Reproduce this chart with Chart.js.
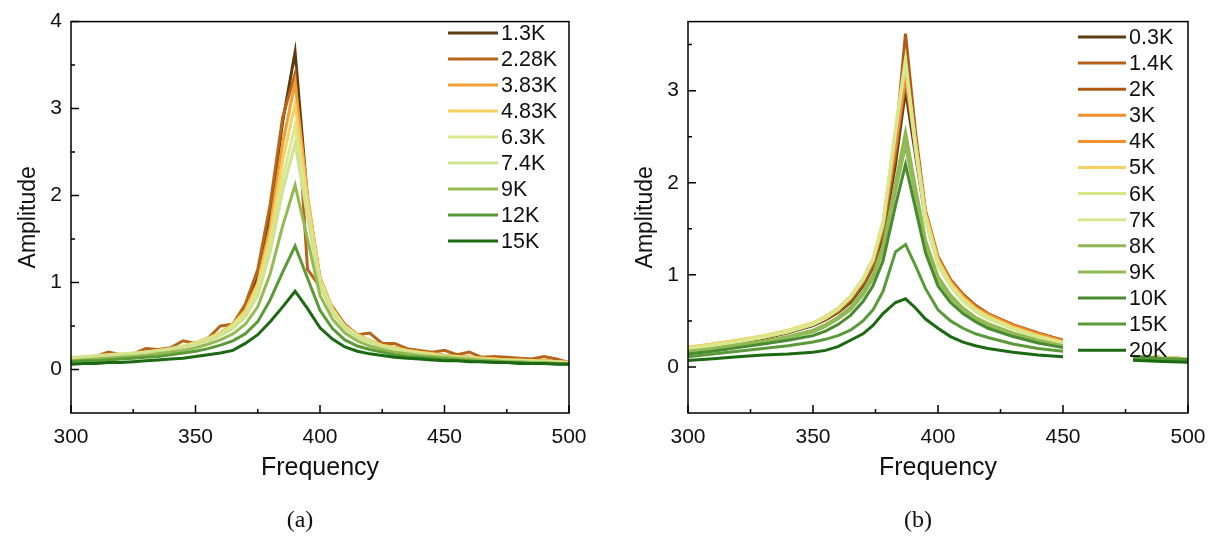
<!DOCTYPE html>
<html>
<head>
<meta charset="utf-8">
<script src="https://cdn.jsdelivr.net/npm/chart.js@4.4.0/dist/chart.umd.min.js"></script>
<style>
  html, body { margin: 0; padding: 0; background: #fff; }
  body { width: 1225px; height: 548px; position: relative; overflow: hidden; }
  canvas { position: absolute; top: 0; }
  #chartA { left: 0; }
  #chartB { left: 617px; }
  .caption {
    position: absolute; top: 506px; transform: translateX(-50%);
    font-family: 'Liberation Serif', 'Times New Roman', serif; font-size: 24px; color: #111;
  }
</style>
</head>
<body>
<canvas id="chartA" width="600" height="548"></canvas>
<canvas id="chartB" width="608" height="548"></canvas>
<div class="caption" style="left:300px">(a)</div>
<div class="caption" style="left:918px">(b)</div>
<script>
// ---- Panel (a): frequency grid and amplitude curves ----
const freqA = [300, 305, 310, 315, 320, 325, 330, 335, 340, 345, 350, 355, 360, 365, 370, 375, 380, 385, 390, 395,
  400, 405, 410, 415, 420, 425, 430, 435, 440, 445, 450, 455, 460, 465, 470, 475, 480, 485, 490, 495, 500];

const a1p3K  = [.12, .13, .14, .15, .16, .17, .19, .21, .23, .26, .30, .35, .42, .52, .70, 1.05, 1.75, 2.85, 3.65, 1.95,
  1.05, .70, .50, .40, .33, .28, .25, .22, .20, .18, .16, .15, .14, .13, .12, .11, .11, .10, .10, .09, .08];
const a2p28K = [.13, .14, .15, .20, .17, .18, .24, .23, .25, .33, .30, .36, .50, .52, .75, 1.15, 1.9, 2.9, 3.4, 1.15,
  .95, .72, .52, .40, .42, .30, .30, .24, .22, .20, .22, .17, .20, .14, .15, .14, .13, .12, .15, .12, .08];
const a3p83K = [.12, .13, .14, .15, .16, .17, .19, .21, .23, .26, .30, .35, .42, .52, .68, 1.0, 1.65, 2.6, 3.3, 2.0,
  1.05, .70, .50, .40, .33, .28, .25, .22, .20, .18, .16, .15, .14, .13, .12, .11, .11, .10, .10, .09, .08];
const a4p83K = [.13, .14, .15, .16, .17, .18, .20, .22, .24, .27, .31, .36, .42, .52, .67, .98, 1.55, 2.4, 3.05, 1.95,
  1.05, .70, .50, .40, .33, .28, .25, .22, .20, .18, .16, .15, .14, .13, .12, .11, .11, .10, .10, .09, .08];
const a6p3K  = [.14, .15, .16, .17, .18, .19, .20, .22, .24, .27, .30, .35, .41, .50, .64, .92, 1.45, 2.2, 2.8, 1.85,
  1.0, .68, .49, .39, .32, .27, .24, .21, .19, .17, .15, .14, .13, .12, .11, .11, .10, .10, .09, .09, .08];
const a7p4K  = [.13, .14, .15, .16, .17, .18, .19, .21, .23, .26, .29, .33, .39, .47, .60, .85, 1.35, 2.05, 2.6, 1.75,
  .95, .65, .47, .37, .31, .26, .23, .20, .18, .16, .15, .14, .13, .12, .11, .10, .10, .09, .09, .08, .08];
const a9K    = [.10, .11, .12, .13, .14, .15, .16, .18, .20, .22, .25, .29, .34, .41, .52, .72, 1.1, 1.65, 2.12, 1.5,
  .85, .58, .42, .33, .27, .23, .20, .18, .16, .15, .14, .13, .12, .11, .10, .09, .09, .08, .08, .07, .07];
const a12K   = [.09, .10, .10, .11, .12, .13, .14, .15, .17, .19, .21, .24, .28, .33, .41, .55, .80, 1.12, 1.42, 1.05,
  .68, .47, .34, .27, .23, .20, .17, .15, .14, .13, .12, .11, .10, .09, .09, .08, .08, .07, .07, .07, .06];
const a15K   = [.06, .07, .07, .08, .08, .09, .10, .11, .12, .13, .15, .17, .19, .22, .30, .40, .55, .72, .90, .70,
  .48, .35, .26, .21, .18, .16, .14, .13, .12, .11, .10, .10, .09, .09, .08, .08, .07, .07, .07, .06, .06];

const labelsA = ['1.3K', '2.28K', '3.83K', '4.83K', '6.3K', '7.4K', '9K', '12K', '15K'];
const seriesA = [a1p3K, a2p28K, a3p83K, a4p83K, a6p3K, a7p4K, a9K, a12K, a15K];
const colorsA = ['#5c3a12', '#b8651c', '#f0a032', '#f6d062', '#d9e88c', '#d2e290', '#94bb52', '#5a9a36', '#1b6a12'];

// ---- Panel (b) ----
const freqB = [300, 310, 320, 330, 340, 350, 355, 360, 365, 370, 374, 378, 383, 387, 391, 395,
  400, 405, 410, 415, 420, 430, 440, 450, 460, 470, 480, 490, 500];

const b0p3K = [.19, .23, .27, .31, .37, .45, .51, .59, .70, .88, 1.08, 1.42, 2.2, 3.0, 2.3, 1.6,
  1.12, .90, .74, .63, .55, .44, .35, .27, .22, .17, .13, .10, .09];
const b1p4K = [.20, .24, .28, .32, .38, .46, .52, .60, .72, .90, 1.1, 1.46, 2.3, 3.1, 2.4, 1.65,
  1.16, .93, .77, .65, .57, .45, .36, .28, .23, .17, .13, .10, .09];
const b2K   = [.20, .24, .28, .32, .38, .46, .52, .61, .73, .92, 1.14, 1.52, 2.45, 3.62, 2.55, 1.7,
  1.2, .95, .79, .67, .58, .46, .37, .29, .24, .18, .13, .10, .09];
const b3K   = [.21, .25, .29, .33, .39, .47, .54, .63, .76, .95, 1.17, 1.55, 2.45, 3.2, 2.45, 1.68,
  1.18, .93, .77, .65, .57, .45, .36, .28, .23, .17, .13, .10, .09];
const b4K   = [.20, .24, .28, .33, .39, .47, .53, .62, .75, .94, 1.15, 1.53, 2.4, 3.15, 2.4, 1.65,
  1.16, .92, .76, .64, .56, .44, .35, .27, .22, .17, .13, .10, .09];
const b5K   = [.21, .25, .29, .34, .40, .48, .55, .64, .77, .96, 1.18, 1.58, 2.55, 3.3, 2.45, 1.66,
  1.16, .91, .75, .63, .55, .43, .34, .27, .22, .17, .13, .10, .09];
const b6K   = [.20, .24, .28, .33, .39, .47, .54, .63, .76, .95, 1.17, 1.57, 2.6, 3.35, 2.4, 1.62,
  1.13, .89, .73, .62, .54, .42, .33, .26, .21, .17, .13, .10, .09];
const b7K   = [.19, .23, .27, .32, .38, .46, .53, .62, .75, .94, 1.16, 1.55, 2.55, 3.3, 2.35, 1.58,
  1.1, .87, .71, .60, .52, .41, .32, .25, .21, .16, .12, .10, .09];
const b8K   = [.17, .20, .24, .28, .33, .40, .46, .54, .65, .82, 1.0, 1.32, 2.0, 2.55, 1.95, 1.38,
  .98, .78, .64, .54, .47, .37, .29, .23, .19, .14, .11, .09, .08];
const b9K   = [.16, .19, .23, .27, .32, .38, .44, .52, .62, .78, .96, 1.25, 1.9, 2.4, 1.85, 1.32,
  .94, .75, .62, .52, .45, .35, .28, .22, .18, .14, .11, .09, .08];
const b10K  = [.14, .17, .21, .25, .29, .34, .39, .46, .56, .71, .88, 1.15, 1.75, 2.2, 1.72, 1.24,
  .88, .70, .58, .49, .42, .33, .26, .21, .17, .14, .11, .09, .08];
const b15K  = [.11, .14, .17, .20, .23, .27, .30, .34, .40, .50, .62, .82, 1.25, 1.33, 1.1, .85,
  .62, .50, .42, .36, .32, .25, .20, .17, .14, .11, .09, .08, .07];
const b20K  = [.07, .09, .11, .13, .14, .16, .18, .22, .29, .36, .45, .58, .70, .74, .64, .52,
  .42, .33, .27, .23, .20, .16, .13, .11, .09, .08, .07, .06, .05];

const labelsB = ['0.3K', '1.4K', '2K', '3K', '4K', '5K', '6K', '7K', '8K', '9K', '10K', '15K', '20K'];
const seriesB = [b0p3K, b1p4K, b2K, b3K, b4K, b5K, b6K, b7K, b8K, b9K, b10K, b15K, b20K];
const colorsB = ['#5c3a12', '#b5611c', '#b05a16', '#f0902c', '#f09232', '#f8d062', '#d9e884', '#d8e892',
  '#90b852', '#92ba56', '#4a8a30', '#5a9a3a', '#1b6a12'];

// Tick values
const xTicks = [300, 350, 400, 450, 500];
const yTicksA = [0, 1, 2, 3, 4];
const yTicksB = [0, 1, 2, 3];

const FONT = "'Liberation Sans', Arial, sans-serif";
const INK = '#111';

// Dibuja la leyenda (con fondo blanco), el marco y las marcas hacia dentro
const frameLegend = {
  id: 'frameLegend',
  afterDatasetsDraw(chart, args, opts) {
    const { ctx, chartArea: a } = chart;
    const leg = opts.legend;
    ctx.save();
    ctx.fillStyle = '#fff';
    // fondo blanco de la leyenda (con un escalón a la derecha, como en el original)
    ctx.fillRect(leg.boxLeft, a.top + 1, leg.notchX - leg.boxLeft, leg.boxBottom - a.top - 1);
    ctx.fillRect(leg.notchX, a.top + 1, a.right - leg.notchX - 1, leg.notchBottom - a.top - 1);
    chart.data.datasets.forEach((ds, i) => {
      const yy = leg.y + i * leg.gap;
      ctx.strokeStyle = ds.borderColor;
      ctx.lineWidth = 3;
      ctx.beginPath();
      ctx.moveTo(leg.x, yy);
      ctx.lineTo(leg.x + leg.len, yy);
      ctx.stroke();
      ctx.fillStyle = INK;
      ctx.font = leg.size + 'px ' + FONT;
      ctx.textBaseline = 'middle';
      ctx.fillText(ds.label, leg.x + leg.len + 3, yy + 1);
    });
    ctx.restore();
  },
  afterDraw(chart) {
    const { ctx, chartArea: a, scales: { x, y } } = chart;
    ctx.save();
    ctx.strokeStyle = '#000';
    ctx.lineWidth = 1.5;
    ctx.strokeRect(a.left, a.top, a.right - a.left, a.bottom - a.top);
    ctx.beginPath();
    const xv = x.ticks.map(t => t.value);
    xv.forEach((v, i) => {
      const px = x.getPixelForValue(v);
      ctx.moveTo(px, a.bottom); ctx.lineTo(px, a.bottom - 8);
      if (i < xv.length - 1) {
        const mx = x.getPixelForValue((v + xv[i + 1]) / 2);
        ctx.moveTo(mx, a.bottom); ctx.lineTo(mx, a.bottom - 4);
      }
    });
    const yv = y.ticks.map(t => t.value);
    const yMinor = [];
    for (let v = yv[0] - 0.5; v <= y.max; v += 1) yMinor.push(v);
    yv.forEach(v => {
      const py = y.getPixelForValue(v);
      ctx.moveTo(a.left, py); ctx.lineTo(a.left + 8, py);
    });
    yMinor.forEach(v => {
      const py = y.getPixelForValue(v);
      if (py > a.top + 2 && py < a.bottom - 2) { ctx.moveTo(a.left, py); ctx.lineTo(a.left + 4, py); }
    });
    ctx.stroke();
    ctx.restore();
  }
};

// las series posteriores se dibujan encima (order menor = encima)
const buildDatasets = (freq, series, labels, colors) =>
  series.map((vals, i) => ({
    label: labels[i],
    data: freq.map((f, j) => ({ x: f, y: vals[j] })),
    borderColor: colors[i],
    borderWidth: 3,
    pointRadius: 0,
    tension: 0,
    fill: false,
    order: -i
  }));

const makeChart = (canvas, datasets, yMax, yTicks, padRight, legend) => new Chart(canvas, {
  type: 'line',
  data: { datasets },
  options: {
    responsive: false,
    animation: false,
    layout: { padding: { top: 12, right: padRight, left: 0, bottom: 0 } },
    plugins: { legend: { display: false }, tooltip: { enabled: false }, frameLegend: { legend } },
    scales: {
      x: {
        type: 'linear', min: 300, max: 500,
        afterBuildTicks: s => { s.ticks = xTicks.map(v => ({ value: v })); },
        afterFit: s => { s.height = 135; },
        grid: { display: false, drawTicks: false },
        border: { display: false },
        ticks: { padding: 12, color: INK, font: { family: FONT, size: 21 }, maxRotation: 0, autoSkip: false },
        title: { display: true, text: 'Frequency', color: INK, font: { family: FONT, size: 25 }, padding: { top: 0, bottom: 65 } }
      },
      y: {
        min: -0.5, max: yMax,
        afterBuildTicks: s => { s.ticks = yTicks.map(v => ({ value: v })); },
        afterFit: s => { s.width = 71; },
        grid: { display: false, drawTicks: false },
        border: { display: false },
        ticks: { padding: 9, color: INK, font: { family: FONT, size: 21 } },
        title: { display: true, text: 'Amplitude', color: INK, font: { family: FONT, size: 23 }, padding: { top: 15, bottom: 0 } }
      }
    }
  },
  plugins: [frameLegend]
});

makeChart(document.getElementById('chartA'),
  buildDatasets(freqA, seriesA, labelsA, colorsA), 4, yTicksA, 31,
  { x: 448, y: 33, gap: 26, len: 50, size: 21.5, boxLeft: 440, boxBottom: 40, notchX: 560, notchBottom: 40 });

makeChart(document.getElementById('chartB'),
  buildDatasets(freqB, seriesB, labelsB, colorsB), 3.75, yTicksB, 37,
  { x: 461, y: 37, gap: 26.1, len: 48, size: 21.5, boxLeft: 446, boxBottom: 366, notchX: 516, notchBottom: 355 });
</script>
</body>
</html>
